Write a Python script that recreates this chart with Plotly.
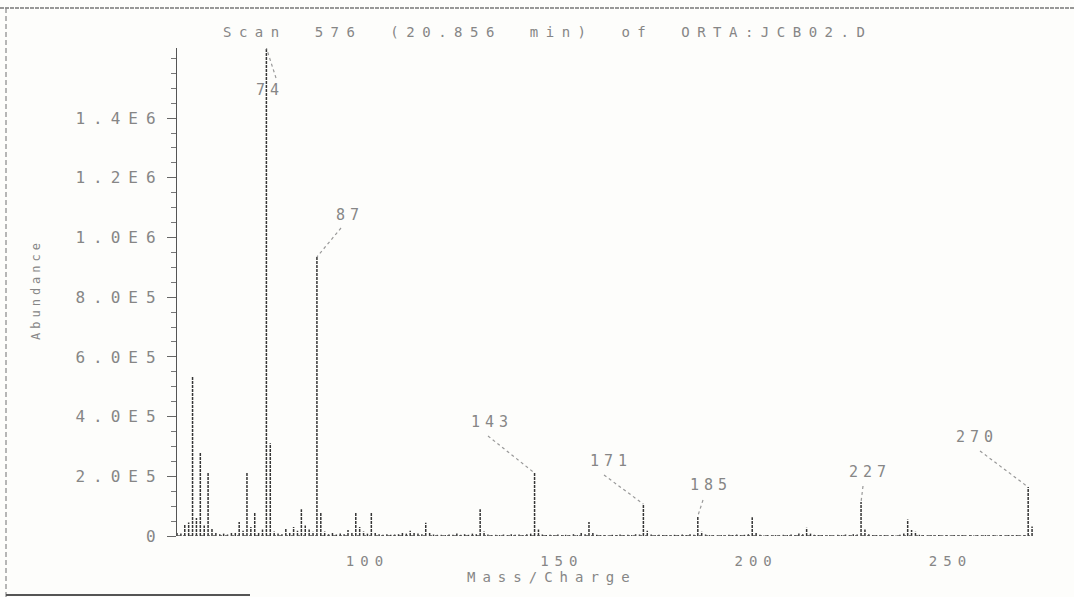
import plotly.graph_objects as go

# ---- spectrum data: scan 576 of ORTA:JCB02.D ----
mass_start = 51
# abundance per integer m/z from 51 to 271, in thousands of counts
abundance_k = [
    12, 8, 40, 45, 535, 60, 278, 35, 211, 25,        # 51-60
    10, 6, 8, 5, 12, 10, 47, 18, 214, 30,            # 61-70
    80, 12, 22, 1635, 311, 15, 8, 6, 25, 12,         # 71-80
    30, 18, 90, 35, 22, 14, 935, 77, 15, 6,          # 81-90
    10, 5, 8, 6, 20, 12, 80, 30, 15, 8,              # 91-100
    80, 12, 6, 4, 6, 4, 5, 6, 12, 8,                 # 101-110
    18, 10, 8, 6, 44, 10, 5, 4, 4, 3,                # 111-120
    5, 4, 8, 4, 6, 4, 8, 6, 90, 15,                  # 121-130
    5, 3, 4, 3, 5, 3, 6, 4, 5, 3,                    # 131-140
    6, 8, 211, 22, 5, 3, 4, 3, 5, 3,                 # 141-150
    4, 3, 6, 3, 10, 6, 47, 10, 4, 3,                 # 151-160
    3, 2, 4, 3, 5, 3, 4, 3, 6, 5,                    # 161-170
    107, 18, 5, 3, 4, 3, 3, 2, 4, 3,                 # 171-180
    5, 3, 6, 4, 67, 14, 5, 3, 3, 2,                  # 181-190
    3, 2, 4, 3, 5, 3, 4, 6, 63, 12,                  # 191-200
    4, 2, 3, 2, 3, 2, 4, 3, 5, 3,                    # 201-210
    8, 6, 28, 8, 4, 3, 3, 2, 3, 2,                   # 211-220
    4, 3, 5, 3, 6, 5, 114, 22, 6, 3,                 # 221-230
    3, 2, 3, 2, 3, 2, 4, 8, 55, 20,                  # 231-240
    14, 4, 3, 2, 3, 2, 3, 2, 3, 2,                   # 241-250
    3, 2, 3, 2, 3, 2, 3, 2, 3, 2,                    # 251-260
    3, 2, 3, 2, 3, 2, 3, 2, 3, 164,                  # 261-270
    32,                                              # 271
]
labelled_masses = [74, 87, 143, 171, 185, 227, 270]

y_tick_values = [0, 200000, 400000, 600000, 800000, 1000000, 1200000, 1400000]
y_tick_labels = ["0", "2.0E5", "4.0E5", "6.0E5", "8.0E5", "1.0E6", "1.2E6", "1.4E6"]
x_tick_values = [100, 150, 200, 250]
x_tick_labels = ["100", "150", "200", "250"]

title_text = "Scan 576 (20.856 min) of ORTA:JCB02.D"
x_title = "Mass/Charge"
y_title = "Abundance"

masses = list(range(mass_start, mass_start + len(abundance_k)))
abundance = [a * 1000 for a in abundance_k]
peak_of = dict(zip(masses, abundance))

# ---- page geometry (pixels) ----
W, H = 1074, 597
PL, PR, PT, PB = 177, 1034, 48, 536
X_RANGE = [51.0, 271.5]
Y_RANGE = [0, 1635000]

def px2x(px):
    return X_RANGE[0] + (px - PL) / (PR - PL) * (X_RANGE[1] - X_RANGE[0])

def py2y(py):
    return Y_RANGE[0] + (PB - py) / (PB - PT) * (Y_RANGE[1] - Y_RANGE[0])

def px2paper(px):
    return (px - PL) / (PR - PL)

def py2paper(py):
    return (PB - py) / (PB - PT)

FONT = "DejaVu Sans Mono"
TEXT_COLOR = "#868686"
INK = "#363636"

def dot(text, ls=7, ws=None):
    style = f"letter-spacing:{ls}px"
    if ws is not None:
        style += f";word-spacing:{ws}px"
    return f'<span style="{style}">{text}</span>'

# ---- stick spectrum ----
sx, sy = [], []
for m, a in zip(masses, abundance):
    sx += [m, m, None]
    sy += [0, a, None]

fig = go.Figure()
fig.add_trace(go.Scatter(
    x=sx, y=sy, mode="lines",
    line=dict(color=INK, width=1.5, dash="3px,1px"),
    hoverinfo="skip", showlegend=False,
))

shapes = []
# dotted baseline
shapes.append(dict(type="line", xref="x", yref="y", x0=X_RANGE[0], x1=px2x(1030),
                   y0=0, y1=0, line=dict(color="#555", width=1.3, dash="dot")))

# ---- peak labels with dotted leaders ----
label_pos = {74: (270, 90), 87: (350, 215), 143: (492, 422), 171: (611, 461),
             185: (711, 485), 227: (870, 472), 270: (977, 437)}
leader_start = {74: (276, 78), 87: (341, 228), 143: (488, 436), 171: (604, 475),
                185: (703, 500), 227: (863, 486), 270: (980, 451)}
annotations = []
for m in labelled_masses:
    lx, ly = label_pos[m]
    annotations.append(dict(x=px2x(lx), y=py2y(ly), xref="x", yref="y",
                            text=dot(str(m), 5), showarrow=False,
                            font=dict(family=FONT, size=15, color=TEXT_COLOR)))
    sxp, syp = leader_start[m]
    shapes.append(dict(type="line", xref="x", yref="y",
                       x0=px2x(sxp), y0=py2y(syp), x1=m, y1=peak_of[m],
                       line=dict(color="#999", width=1.2, dash="dot")))

# ---- titles ----
annotations.append(dict(x=px2paper(547), y=py2paper(22), xref="paper", yref="paper",
                        text=dot(title_text, 7.5, 12), showarrow=False,
                        font=dict(family=FONT, size=14, color=TEXT_COLOR)))
annotations.append(dict(x=px2paper(552), y=py2paper(587), xref="paper", yref="paper",
                        text=dot(x_title, 7), showarrow=False,
                        font=dict(family=FONT, size=14, color=TEXT_COLOR)))
annotations.append(dict(x=px2paper(27), y=py2paper(290), xref="paper", yref="paper",
                        text=dot(y_title, 4), showarrow=False, textangle=-90,
                        font=dict(family=FONT, size=12, color=TEXT_COLOR)))

# ---- page frame ----
shapes.append(dict(type="line", xref="paper", yref="paper",
                   x0=px2paper(0), x1=px2paper(W), y0=py2paper(8), y1=py2paper(8),
                   line=dict(color="#777", width=1.3, dash="4px,1px")))
shapes.append(dict(type="line", xref="paper", yref="paper",
                   x0=px2paper(6), x1=px2paper(6), y0=py2paper(8), y1=py2paper(597),
                   line=dict(color="#888", width=1.2, dash="5px,3px")))
shapes.append(dict(type="line", xref="paper", yref="paper",
                   x0=px2paper(6), x1=px2paper(250), y0=py2paper(595), y1=py2paper(595),
                   line=dict(color="#555", width=2)))

fig.update_layout(
    width=W, height=H,
    margin=dict(l=PL, r=W - PR, t=PT, b=H - PB, pad=0),
    paper_bgcolor="#fdfdfb", plot_bgcolor="#fdfdfb",
    font=dict(family=FONT, color=TEXT_COLOR),
    showlegend=False,
    shapes=shapes, annotations=annotations,
    xaxis=dict(range=X_RANGE, showgrid=False, zeroline=False, showline=False,
               tickvals=x_tick_values, ticktext=[dot(t, 6) for t in x_tick_labels],
               ticks="outside", ticklen=12, tickcolor="rgba(0,0,0,0)",
               tickfont=dict(family=FONT, size=14, color=TEXT_COLOR)),
    yaxis=dict(range=Y_RANGE, showgrid=False, zeroline=False,
               showline=True, linecolor="#555", linewidth=1.4,
               tickvals=y_tick_values, ticktext=[dot(t, 8) for t in y_tick_labels],
               ticks="outside", ticklen=9, tickwidth=1.3, tickcolor="#666",
               minor=dict(dtick=50000, ticks="outside", ticklen=5, tickwidth=1.1,
                          tickcolor="#777", showgrid=False),
               tickfont=dict(family=FONT, size=16, color=TEXT_COLOR)),
)

fig.write_html("out.html")
